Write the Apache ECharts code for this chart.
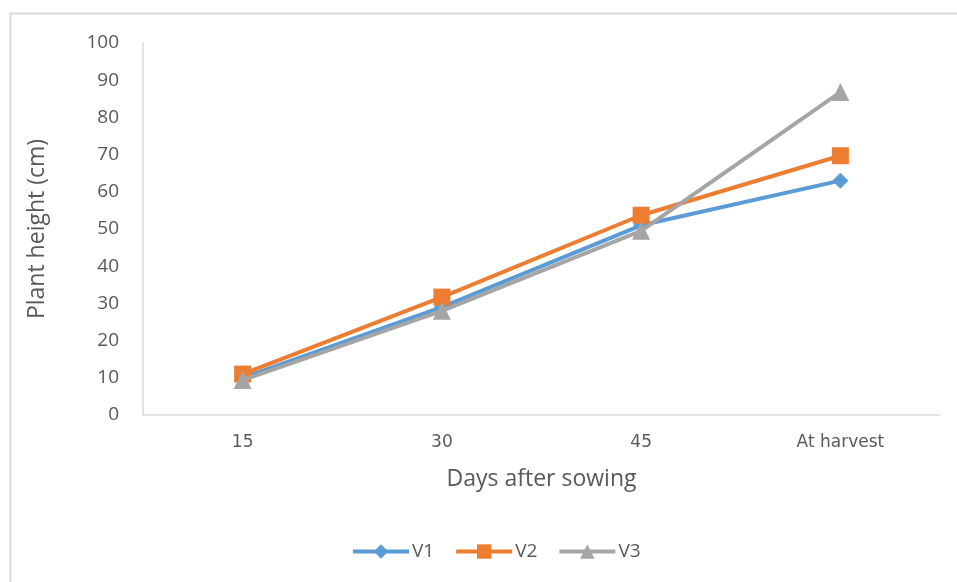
<!DOCTYPE html>
<html><head><meta charset="utf-8">
<script src="https://cdn.jsdelivr.net/npm/echarts@6/dist/echarts.min.js"></script>
<style>html,body{margin:0;padding:0;background:#fff}#c{width:957px;height:582px}</style>
</head><body><div id="c"></div>
<script>
const categories = ['15', '30', '45', 'At harvest'];
const v1 = [10, 29, 51, 63];
const v2 = [11, 31.7, 53.7, 69.7];
const v3 = [9.4, 28, 49.5, 86.8];
const seriesNames = ['V1', 'V2', 'V3'];
const colors = ['#5B9BD5', '#ED7D31', '#A5A5A5'];
const symbols = ['diamond', 'rect', 'triangle'];
const symbolSizes = [16, 17, 18];

const chart = echarts.init(document.getElementById('c'));
const dataSets = [v1, v2, v3];
chart.setOption({
  animation: false,
  graphic: [{type: 'rect', shape: {x: 10.5, y: 13.5, width: 1000, height: 1000}, style: {fill: 'none', stroke: '#d9d9d9', lineWidth: 2}, silent: true, z: -10}],
  grid: {left: 143, right: 17, top: 43, bottom: 167, containLabel: false},
  legend: {
    bottom: 16, left: 346, itemWidth: 56, itemHeight: 18, itemGap: 20,
    lineStyle: {width: 4},
    textStyle: {fontFamily: 'Open Sans', fontSize: 19, color: '#595959', padding: [0, 0, 0, -2]},
    data: seriesNames
  },
  xAxis: {
    type: 'category', data: categories, boundaryGap: true,
    axisLine: {lineStyle: {color: '#d9d9d9', width: 1.5}},
    axisTick: {show: false},
    axisLabel: {color: '#595959', fontFamily: 'DejaVu Sans', fontSize: 17, margin: 19},
    name: 'Days after sowing', nameLocation: 'middle', nameGap: 53,
    nameTextStyle: {color: '#595959', fontFamily: 'Open Sans', fontSize: 23}
  },
  yAxis: {
    type: 'value', min: 0, max: 100, interval: 10,
    splitLine: {show: false},
    axisLine: {show: true, lineStyle: {color: '#d9d9d9', width: 1.5}},
    axisTick: {show: false},
    axisLabel: {color: '#595959', fontFamily: 'Open Sans', fontSize: 19, margin: 24},
    name: 'Plant height (cm)', nameLocation: 'middle', nameGap: 94, nameRotate: 90,
    nameTextStyle: {color: '#595959', fontFamily: 'Open Sans', fontSize: 23}
  },
  series: dataSets.map((d, i) => ({
    name: seriesNames[i], type: 'line', data: d,
    symbol: symbols[i], symbolSize: symbolSizes[i],
    lineStyle: {color: colors[i], width: 4},
    itemStyle: {color: colors[i]},
    z: i === 2 ? 3 : 2
  }))
});
</script></body></html>
